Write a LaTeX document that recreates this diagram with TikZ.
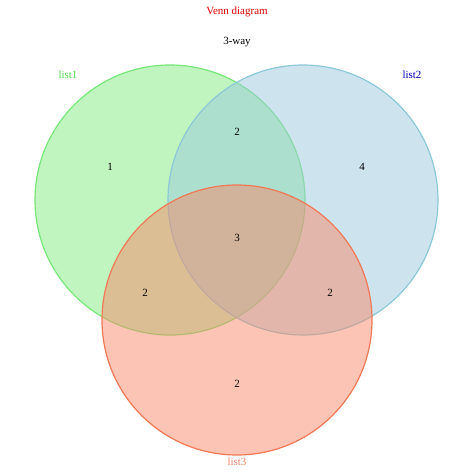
\documentclass[tikz,border=0pt]{standalone}
\usepackage{fontspec}
\setmainfont{Liberation Serif}
\begin{document}
\begin{tikzpicture}[x=1pt,y=-1pt,
  set/.style={line width=1.2pt,fill opacity=0.5},
  lab/.style={font=\fontsize{11}{13}\selectfont}]
\useasboundingbox (0,0) rectangle (474,474);
\definecolor{gf}{RGB}{129,235,129}\definecolor{gs}{RGB}{120,230,120}
\definecolor{bf}{RGB}{155,201,221}\definecolor{bs}{RGB}{140,200,215}
\definecolor{rf}{RGB}{247,137,105}\definecolor{rs}{RGB}{240,120,85}
\path[set,fill=gf,draw=gs] (170,200) circle (135);
\path[set,fill=bf,draw=bs] (303,200) circle (135);
\path[set,fill=rf,draw=rs] (237,320) circle (135);
\node[lab,text=red!85!black] (t) at (237,12) {Venn diagram};
\node[lab] (s) at (237,42) {3-way};
\node[lab,text=green!80!black!70] (l1) at (68,75) {list1};
\node[lab,text=blue!70!black] (l2) at (412,75) {list2};
\node[lab,text=rs!80!pink] (l3) at (237,462) {list3};
\node[lab] (a) at (110,167) {1};
\node[lab] (b) at (237,132) {2};
\node[lab] (c) at (362,167) {4};
\node[lab] (d) at (237,238) {3};
\node[lab] (e) at (145,293) {2};
\node[lab] (f) at (330,293) {2};
\node[lab] (g) at (237,384) {2};
\end{tikzpicture}
\end{document}
